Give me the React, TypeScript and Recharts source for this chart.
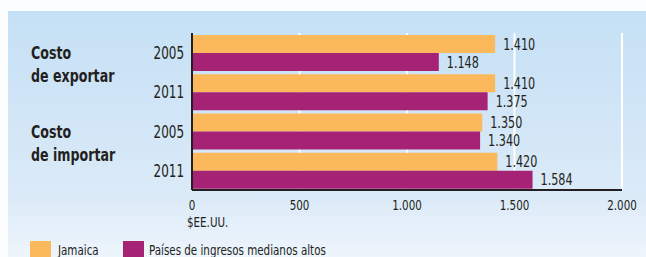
import React from "react";
import { BarChart, Bar, XAxis, YAxis, CartesianGrid, LabelList } from "recharts";

const categoryKeys = ["exp-2005", "exp-2011", "imp-2005", "imp-2011"];
const years = ["2005", "2011", "2005", "2011"];
const groupLabels = [["Costo", "de exportar"], null, ["Costo", "de importar"], null];
const jamaica = [1410, 1410, 1350, 1420];
const upperMiddle = [1148, 1375, 1340, 1584];
const xTicks = [0, 500, 1000, 1500, 2000];
const seriesNames = ["Jamaica", "Países de ingresos medianos altos"];
const unitLabel = "$EE.UU.";

const data = categoryKeys.map((k, i) => ({
  key: k,
  year: years[i],
  jamaica: jamaica[i],
  upper: upperMiddle[i],
}));

const FONT = "'DejaVu Sans Condensed', 'DejaVu Sans', sans-serif";
const ORANGE = "#fcb95b";
const PURPLE = "#a52275";
const TEXT = "#231f20";

const fmt = (v: number) => {
  const s = String(Math.round(v));
  return s.replace(/\B(?=(\d{3})+(?!\d))/g, ".");
};

const CText = (p: any) => (
  <text
    transform={`translate(${p.x},${p.y}) scale(${p.sx},1)`}
    textAnchor={p.anchor || "start"}
    fontFamily={FONT}
    fontSize={p.size}
    fontWeight={p.weight || "normal"}
    fill={TEXT}
  >
    {p.children}
  </text>
);

const YTick = (props: any) => {
  const { x, y, payload } = props;
  const i = categoryKeys.indexOf(payload.value);
  const g = groupLabels[i];
  return (
    <g>
      <CText x={x} y={y + 6.5} sx={0.76} size={17.5} anchor="end">
        {years[i]}
      </CText>
      {g ? (
        <g>
          <CText x={31} y={y + 6.5} sx={0.78} size={18} weight="bold">
            {g[0]}
          </CText>
          <CText x={31} y={y + 29.5} sx={0.78} size={18} weight="bold">
            {g[1]}
          </CText>
        </g>
      ) : null}
    </g>
  );
};

const XTick = (props: any) => {
  const { x, y, payload } = props;
  return (
    <g>
      <CText x={x} y={y + 12} sx={0.82} size={14} anchor="middle">
        {fmt(payload.value)}
      </CText>
      {payload.value === 0 ? (
        <CText x={x - 5} y={y + 29} sx={0.82} size={14}>
          {unitLabel}
        </CText>
      ) : null}
    </g>
  );
};

const ValueLabel = (props: any) => {
  const { x, y, width, height, value } = props;
  return (
    <CText x={x + width + 8} y={y + height / 2 + 5.5} sx={0.83} size={15}>
      {fmt(value)}
    </CText>
  );
};

export default function App() {
  return (
    <div style={{ position: "absolute", left: 0, top: 0, width: 646, height: 257, background: "#fbfdff", overflow: "hidden" }}>
      <div
        style={{
          position: "absolute",
          left: 8,
          top: 11,
          width: 638,
          height: 246,
          background: "linear-gradient(#c5e0f5, #dbeaf8 75%, #eef5fc)",
        }}
      />
      <div style={{ position: "absolute", left: 0, top: 0 }}>
        <BarChart
          width={646}
          height={257}
          data={data}
          layout="vertical"
          margin={{ top: 33, right: 24, bottom: 37, left: 0 }}
          barSize={18}
          barGap={0}
        >
          <CartesianGrid horizontal={false} vertical={true} stroke="#ffffff" strokeWidth={2} />
          <XAxis
            type="number"
            domain={[0, 2000]}
            ticks={xTicks}
            tickLine={false}
            axisLine={{ stroke: TEXT, strokeWidth: 2 }}
            height={30}
            tick={<XTick />}
            interval={0}
          />
          <YAxis
            type="category"
            dataKey="key"
            width={192}
            tickLine={false}
            axisLine={{ stroke: TEXT, strokeWidth: 2 }}
            tick={<YTick />}
            interval={0}
          />
          <Bar dataKey="jamaica" name={seriesNames[0]} fill={ORANGE} isAnimationActive={false}>
            <LabelList dataKey="jamaica" content={<ValueLabel />} />
          </Bar>
          <Bar dataKey="upper" name={seriesNames[1]} fill={PURPLE} isAnimationActive={false}>
            <LabelList dataKey="upper" content={<ValueLabel />} />
          </Bar>
        </BarChart>
      </div>
      <div style={{ position: "absolute", left: 30, top: 241, display: "flex", alignItems: "center", fontFamily: FONT, fontSize: 14, color: TEXT }}>
        <span style={{ display: "inline-block", width: 21, height: 17, background: ORANGE }} />
        <span style={{ display: "inline-block", marginLeft: 7, width: 65, whiteSpace: "nowrap" }}>
          <span style={{ display: "inline-block", transform: "scaleX(0.82)", transformOrigin: "left center" }}>{seriesNames[0]}</span>
        </span>
        <span style={{ display: "inline-block", width: 21, height: 17, background: PURPLE }} />
        <span style={{ display: "inline-block", marginLeft: 5, whiteSpace: "nowrap" }}>
          <span style={{ display: "inline-block", transform: "scaleX(0.82)", transformOrigin: "left center" }}>{seriesNames[1]}</span>
        </span>
      </div>
    </div>
  );
}
